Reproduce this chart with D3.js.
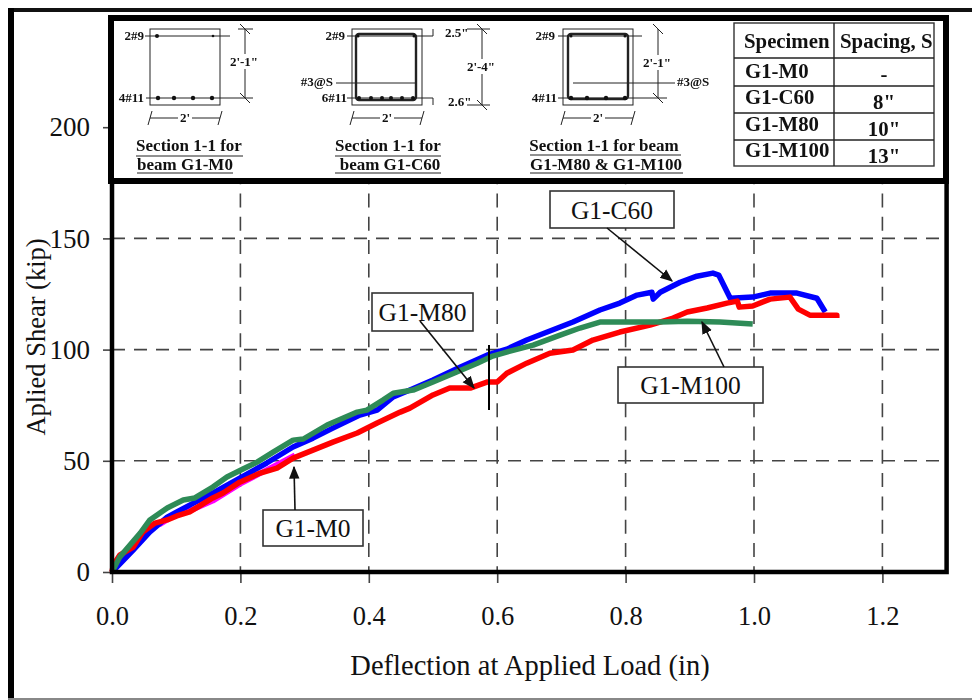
<!DOCTYPE html>
<html>
<head>
<meta charset="utf-8">
<script src="https://cdn.jsdelivr.net/npm/d3@7"></script>
<style>
body { margin: 0; background: #fff; }
text { font-family: "Liberation Serif", serif; fill: #111; }
.small { font-size: 13px; font-weight: bold; }
.cap { font-size: 17px; font-weight: bold; }
.cell { font-size: 20.8px; font-weight: bold; }
</style>
</head>
<body>
<script>
var w = 972;
var h = 700;

//Tick values
var xTicks = [0, 0.2, 0.4, 0.6, 0.8, 1.0, 1.2];
var yTicks = [0, 50, 100, 150, 200];

//Curves, deflection (in)
var m0x = [0, 0.012, 0.026, 0.044, 0.06, 0.075, 0.1, 0.125, 0.157, 0.199, 0.235, 0.262, 0.285];
var c60x = [0, 0.033, 0.059, 0.086, 0.121, 0.157, 0.199, 0.241, 0.282, 0.313, 0.344, 0.386, 0.413, 0.438, 0.464, 0.5, 0.542, 0.584, 0.615, 0.646, 0.678, 0.718, 0.76, 0.791, 0.818, 0.841, 0.843, 0.854, 0.885, 0.911, 0.936, 0.945, 0.963, 0.998, 1.025, 1.067, 1.098, 1.111];
var m80x = [0, 0.002, 0.012, 0.033, 0.048, 0.067, 0.086, 0.101, 0.121, 0.157, 0.173, 0.199, 0.231, 0.257, 0.282, 0.313, 0.344, 0.382, 0.413, 0.449, 0.464, 0.5, 0.526, 0.558, 0.584, 0.6, 0.615, 0.646, 0.682, 0.718, 0.749, 0.791, 0.838, 0.874, 0.896, 0.927, 0.958, 0.974, 0.977, 0.998, 1.025, 1.056, 1.069, 1.087, 1.129, 1.129];
var m100x = [0, 0.012, 0.028, 0.044, 0.059, 0.086, 0.111, 0.129, 0.157, 0.179, 0.204, 0.226, 0.251, 0.282, 0.298, 0.335, 0.382, 0.397, 0.422, 0.438, 0.469, 0.5, 0.537, 0.569, 0.593, 0.62, 0.656, 0.698, 0.729, 0.76, 0.802, 0.854, 0.896, 0.947, 0.998];

//Applied shear (kip)
var m0y = [0, 6.5, 11, 16, 20.5, 21.5, 26, 28, 32, 39.5, 45, 49, 52.5];
var c60y = [0, 9.9, 18, 24.7, 30.1, 35.5, 42.2, 49, 56.2, 60.2, 64.7, 70.6, 72.8, 78.7, 81.8, 86.3, 92.1, 97.5, 100.2, 104.3, 107.9, 112.4, 117.8, 120.9, 124.5, 125.8, 122.7, 125.8, 130.3, 133, 134.4, 133.5, 123.1, 123.6, 125.4, 125.4, 123.1, 116.9];
var m80y = [0, 3, 7.6, 11.2, 18, 22, 23.4, 25.2, 27, 33.3, 35.5, 40.4, 44.5, 46.7, 51.2, 54.8, 58.4, 62.5, 67, 71.9, 73.7, 79.6, 82.7, 82.7, 85.4, 85.4, 89.4, 93.9, 98.4, 99.8, 104.3, 107.9, 111, 114.2, 116.9, 118.7, 120.9, 121.8, 119.1, 119.6, 122.7, 123.6, 118.2, 115.5, 115.5, 114.2];
var m100y = [0, 6.7, 12.1, 17.5, 23.4, 28.8, 32.4, 33.3, 38.2, 42.7, 46.3, 49.4, 53.9, 59.3, 59.8, 66.1, 71.9, 72.8, 77.3, 80.4, 81.8, 85.4, 89.9, 93.9, 97.1, 99.3, 102, 106.5, 109.7, 112.4, 112.4, 112.4, 112.8, 112.4, 111.5];

//Table in the inset
var specimens = ["G1-M0", "G1-C60", "G1-M80", "G1-M100"];
var spacings = ["-", "8\"", "10\"", "13\""];

//Create SVG element
var svg = d3.select("body")
            .append("svg")
            .attr("width", w)
            .attr("height", h)
            .style("display", "block");

//Arrow head for the callouts
svg.append("defs").append("marker")
    .attr("id", "head")
    .attr("viewBox", "0 0 10 10")
    .attr("refX", 9)
    .attr("refY", 5)
    .attr("markerUnits", "userSpaceOnUse")
    .attr("markerWidth", 13)
    .attr("markerHeight", 13)
    .attr("orient", "auto")
    .append("path")
    .attr("d", "M0,1 L10,5 L0,9 Z")
    .attr("fill", "#111");

//Scales
var x = d3.scaleLinear().domain([0, 1.3]).range([112, 946.6]);
var y = d3.scaleLinear().domain([0, 250]).range([572, 16]);

//Outer frame of the screenshot
svg.append("rect").attr("x", 8).attr("y", 8).attr("width", 964).attr("height", 4).attr("fill", "#111");
svg.append("rect").attr("x", 8).attr("y", 8).attr("width", 6).attr("height", 692).attr("fill", "#000");
svg.append("rect").attr("x", 8).attr("y", 698).attr("width", 964).attr("height", 2).attr("fill", "#888");

//Dashed grid
svg.append("g")
    .selectAll("line")
    .data(xTicks.slice(1))
    .enter()
    .append("line")
    .attr("x1", function(d) { return x(d); })
    .attr("x2", function(d) { return x(d); })
    .attr("y1", y(0))
    .attr("y2", 183)
    .attr("stroke", "#444")
    .attr("stroke-width", 1.6)
    .attr("stroke-dasharray", "14 9.3")
    .attr("stroke-dashoffset", 8.3);

svg.append("g")
    .selectAll("line")
    .data(yTicks.slice(1))
    .enter()
    .append("line")
    .attr("x1", x(0))
    .attr("x2", 939)
    .attr("y1", function(d) { return y(d); })
    .attr("y2", function(d) { return y(d); })
    .attr("stroke", "#444")
    .attr("stroke-width", 1.6)
    .attr("stroke-dasharray", "13 9");

//Axes, tick lines stick out of the plot frame
var xAxis = d3.axisBottom(x).tickValues(xTicks).tickSize(11).tickPadding(23).tickFormat(d3.format(".1f"));
var yAxis = d3.axisLeft(y).tickValues(yTicks).tickSize(9).tickPadding(13);

var gx = svg.append("g").attr("transform", "translate(0," + y(0) + ")").call(xAxis);
var gy = svg.append("g").attr("transform", "translate(" + x(0) + ",0)").call(yAxis);
gx.select(".domain").remove();
gy.select(".domain").remove();
gx.selectAll("line").attr("stroke", "#444").attr("stroke-width", 1.6);
gy.selectAll("line").attr("stroke", "#444").attr("stroke-width", 1.6);
gx.selectAll("text").style("font-family", "Liberation Serif").style("font-size", "26.5px").attr("fill", "#111");
gy.selectAll("text").style("font-family", "Liberation Serif").style("font-size", "27px").attr("fill", "#111");

//Curves
var line = d3.line()
    .x(function(d) { return x(d[0]); })
    .y(function(d) { return y(d[1]); });

function curve(xs, ys, color) {
    svg.append("path")
        .attr("d", line(d3.zip(xs, ys)))
        .attr("fill", "none")
        .attr("stroke", color)
        .attr("stroke-width", 5.5)
        .attr("stroke-linejoin", "round");
}

curve(m0x, m0y, "#ff00ff");
curve(c60x, c60y, "#0000ff");
curve(m80x, m80y, "#ff0000");
curve(m100x, m100y, "#2e8b57");

//Plot frame, left, bottom and right
svg.append("path")
    .attr("d", "M" + x(0) + "," + y(250) + "V" + y(0) + "H" + x(1.3) + "V" + y(250))
    .attr("fill", "none")
    .attr("stroke", "#000")
    .attr("stroke-width", 4.5);

//Axis titles
svg.append("text")
    .attr("x", 530)
    .attr("y", 675)
    .attr("text-anchor", "middle")
    .style("font-size", "28.5px")
    .text("Deflection at Applied Load (in)");

svg.append("text")
    .attr("transform", "translate(45,337) rotate(-90)")
    .attr("text-anchor", "middle")
    .style("font-size", "26.5px")
    .text("Aplied Shear (kip)");

//Vertical mark across the curves
svg.append("line").attr("x1", 489).attr("x2", 489).attr("y1", 345).attr("y2", 410).attr("stroke", "#000").attr("stroke-width", 2);

//Callouts: box and arrow to the curve
function callout(label, bx, by, bw, bh, ax1, ay1, ax2, ay2) {
    svg.append("rect")
        .attr("x", bx).attr("y", by).attr("width", bw).attr("height", bh)
        .attr("fill", "#fff").attr("stroke", "#333").attr("stroke-width", 1.6);
    svg.append("text")
        .attr("x", bx + bw / 2).attr("y", by + bh / 2 + 9)
        .attr("text-anchor", "middle")
        .style("font-size", "25.5px")
        .text(label);
    svg.append("line")
        .attr("x1", ax1).attr("y1", ay1).attr("x2", ax2).attr("y2", ay2)
        .attr("stroke", "#111").attr("stroke-width", 1.6)
        .attr("marker-end", "url(#head)");
}

callout("G1-C60", 550, 191, 124, 37, 607, 228, 672, 281);
callout("G1-M80", 372, 293, 101, 38, 420, 321, 474, 388);
callout("G1-M100", 618, 367, 145, 36, 724, 367, 702, 322);
callout("G1-M0", 263, 510, 100, 36, 295, 510, 294, 467);

//Inset with the beam sections and the table
var inset = svg.append("g").style("filter", "blur(0.35px)");

inset.append("rect")
    .attr("x", 111).attr("y", 18).attr("width", 835).attr("height", 163)
    .attr("fill", "#fff").attr("stroke", "#000").attr("stroke-width", 6);

function seg(x1, y1, x2, y2, sw) {
    inset.append("line")
        .attr("x1", x1).attr("y1", y1).attr("x2", x2).attr("y2", y2)
        .attr("stroke", "#222").attr("stroke-width", sw || 1);
}

function label(t, px, py, anchor, cls) {
    inset.append("text")
        .attr("x", px).attr("y", py)
        .attr("text-anchor", anchor || "middle")
        .attr("class", cls || "small")
        .text(t);
}

//Slash ticks at the dimension line ends
function slash(px, py) {
    seg(px - 5, py - 5, px + 5, py + 5, 1);
}
function slashUp(px, py) {
    seg(px - 2, py + 7, px + 2, py - 7, 1);
}

//Concrete outline and the 2' dimension below it
function section(left) {
    inset.append("rect")
        .attr("x", left).attr("y", 29).attr("width", 70).attr("height", 76)
        .attr("fill", "none").attr("stroke", "#222").attr("stroke-width", 1);
    seg(left, 118, left + 70, 118, 1);
    slashUp(left, 118);
    slashUp(left + 70, 118);
    inset.append("rect").attr("x", left + 28).attr("y", 111).attr("width", 14).attr("height", 14).attr("fill", "#fff");
    label("2'", left + 35, 122, "middle");
}

function stirrup(sx, sy, sw, sh) {
    inset.append("rect")
        .attr("x", sx).attr("y", sy).attr("width", sw).attr("height", sh).attr("rx", 3)
        .attr("fill", "none").attr("stroke", "#222").attr("stroke-width", 2.4);
}

function bars(xs, py, r) {
    inset.selectAll(null)
        .data(xs)
        .enter()
        .append("circle")
        .attr("cx", function(d) { return d; })
        .attr("cy", py)
        .attr("r", r)
        .attr("fill", "#111");
}

function dimLabel(t, px, py, tw) {
    inset.append("rect").attr("x", px - tw / 2).attr("y", py - 12).attr("width", tw).attr("height", 15).attr("fill", "#fff");
    label(t, px, py, "middle");
}

//Section for G1-M0
section(150);
seg(145, 36, 230, 36);
seg(146, 98, 253, 98);
bars([157], 36, 2);
bars([213], 36, 1.3);
bars([158, 174, 193, 212], 98, 2.2);
seg(245, 29, 245, 98);
slash(245, 29);
slash(245, 98);
seg(238, 29, 253, 29);
dimLabel("2'-1\"", 244, 66, 30);
label("2#9", 144, 40, "end");
label("4#11", 144, 102, "end");
label("Section 1-1 for", 189, 151, "middle", "cap");
seg(136, 156, 243, 156);
label("beam G1-M0", 185, 170, "middle", "cap");
seg(137, 173, 233, 173);

//Section for G1-C60
section(352);
stirrup(356, 34, 60, 66);
seg(347, 36, 433, 36);
seg(347, 98, 433, 98);
bars([359, 371, 382, 391, 402, 413], 98, 2);
bars([358, 414], 36, 1.5);
seg(336, 83, 415, 83);
seg(467, 29, 490, 29);
seg(467, 105, 490, 105);
seg(482, 29, 482, 105);
slash(482, 29);
slash(482, 105);
seg(433, 29, 433, 36);
seg(433, 98, 433, 105);
dimLabel("2'-4\"", 481, 71, 30);
label("2.5\"", 445, 37, "start");
label("2.6\"", 448, 106, "start");
label("2#9", 345, 40, "end");
label("#3@S", 333, 86, "end");
label("6#11", 347, 102, "end");
label("Section 1-1 for", 388, 151, "middle", "cap");
seg(335, 156, 441, 156);
label("beam G1-C60", 390, 170, "middle", "cap");
seg(335, 173, 441, 173);

//Section for G1-M80 and G1-M100
section(563);
stirrup(568, 34, 60, 65);
seg(558, 36, 642, 36);
seg(558, 98, 667, 98);
bars([571, 587, 606, 625], 98, 2.2);
bars([571, 625], 36, 1.5);
seg(573, 83, 675, 83);
seg(658, 29, 658, 98);
slash(658, 29);
slash(658, 98);
dimLabel("2'-1\"", 657, 67, 30);
label("2#9", 555, 40, "end");
label("#3@S", 677, 86, "start");
label("4#11", 557, 102, "end");
label("Section 1-1 for beam", 604, 151, "middle", "cap");
seg(530, 155, 681, 155);
label("G1-M80 & G1-M100", 606, 170, "middle", "cap");
seg(530, 173, 683, 173);

//Table
var rowY = [23, 58, 86, 113, 140, 166];
inset.append("rect")
    .attr("x", 734).attr("y", 23).attr("width", 200).attr("height", 143)
    .attr("fill", "#fff").attr("stroke", "#333").attr("stroke-width", 1.4);
seg(834, 23, 834, 166, 1.4);
rowY.slice(1, 5).forEach(function(d) { seg(734, d, 934, d, 1.4); });

label("Specimen", 744, 48, "start", "cell");
label("Spacing, S", 840, 48, "start", "cell");

specimens.forEach(function(d, i) {
    label(d, 745, [78, 104, 131, 157][i], "start", "cell");
});
spacings.forEach(function(d, i) {
    label(d, 884, [81, 109, 136, 163][i], "middle", "cell");
});
</script>
</body>
</html>
